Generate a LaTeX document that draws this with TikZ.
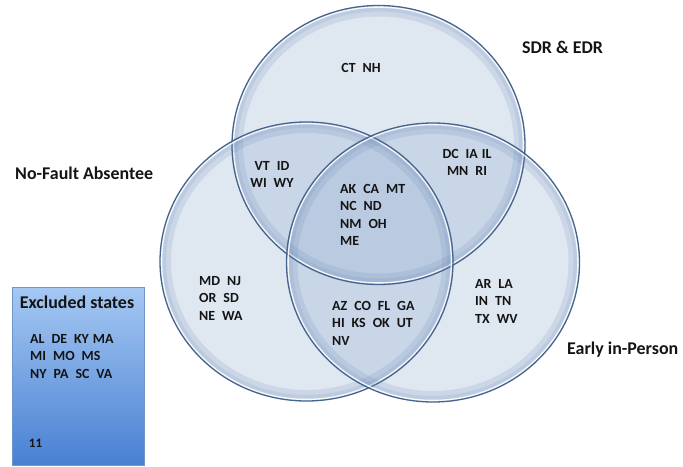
\documentclass[tikz,border=0pt]{standalone}
\usepackage{fontspec}
\usetikzlibrary{shapes.geometric}
\setmainfont{Carlito}
\definecolor{vennfill}{RGB}{150,175,210}
\definecolor{vennedge}{RGB}{70,100,140}
\definecolor{vennglow}{RGB}{110,140,185}
\definecolor{textc}{RGB}{20,20,20}
\definecolor{boxtop}{RGB}{165,200,243}
\definecolor{boxbot}{RGB}{72,128,210}
\definecolor{boxedge}{RGB}{110,150,205}
\newcommand\widesp{\spaceskip=0.5em\relax}
\begin{document}
\begin{tikzpicture}[x=1bp,y=-1bp,
  venn/.style={ellipse, minimum width=293bp, minimum height=279bp, inner sep=0pt, fill=vennfill, fill opacity=0.3, draw=none},
  st/.style={font=\bfseries\fontsize{14}{17.5}\selectfont\widesp, inner sep=0pt, align=left, anchor=north west, text=textc},
  lab/.style={font=\bfseries\fontsize{18}{20}\selectfont, inner sep=0pt, anchor=base west, text=textc}]
\useasboundingbox (0,0) rectangle (683,467);
% circles
\node[venn] (sdr) at (378.5,145) {};
\node[venn] (nfa) at (306.5,261.5) {};
\node[venn] (eip) at (433,262.5) {};
\foreach \c in {sdr,nfa,eip}{
  \draw[vennglow, opacity=0.18, line width=10bp] (\c.center) ellipse[x radius=140.5bp, y radius=133.5bp];
  \draw[vennglow, opacity=0.15, line width=4bp] (\c.center) ellipse[x radius=142.5bp, y radius=135.5bp];
  \draw[white, opacity=0.85, line width=1.3bp] (\c.center) ellipse[x radius=144.9bp, y radius=137.9bp];
  \draw[vennedge, line width=1.3bp] (\c.center) ellipse[x radius=146.5bp, y radius=139.5bp];
}
% region texts
\node[st, anchor=center, align=center] (ctnh) at (361,68) {CT NH};
\node[st, anchor=north, align=center] (vtid) at (272,161) {VT ID\\WI WY};
\node[st] (core) at (340,184) {AK CA MT\\NC ND\\NM OH\\ME};
\node[st, anchor=north, align=center] (dcia) at (467,149) {DC IA\kern-3bp{} IL\\MN RI};
\node[st] (mdnj) at (199,276) {MD NJ\\OR SD\\NE WA};
\node[st] (azco) at (332,301) {AZ CO FL GA\\HI KS OK UT\\NV};
\node[st] (arla) at (475,279) {AR LA\\IN TN\\TX WV};
% set labels
\node[lab] (lnfa) at (15,180) {No-Fault Absentee};
\node[lab] (lsdr) at (522,54) {SDR \& EDR};
\node[lab] (leip) at (567,354) {Early in-Person};
% excluded box
\node[draw=boxedge, line width=0.6bp, top color=boxtop, bottom color=boxbot, minimum width=132bp, minimum height=178bp, inner sep=0pt, anchor=north west] (excl) at (12,287) {};
\node[lab, anchor=base] (ltitle) at (77,309) {Excluded states};
\node[st] (exlist) at (30,334) {AL DE KY\kern-3bp{} MA\\MI MO MS\\NY PA SC VA};
\node[font=\bfseries\fontsize{13}{15}\selectfont, inner sep=0pt, text=textc] (excnt) at (35.5,443) {11};
\end{tikzpicture}
\end{document}
